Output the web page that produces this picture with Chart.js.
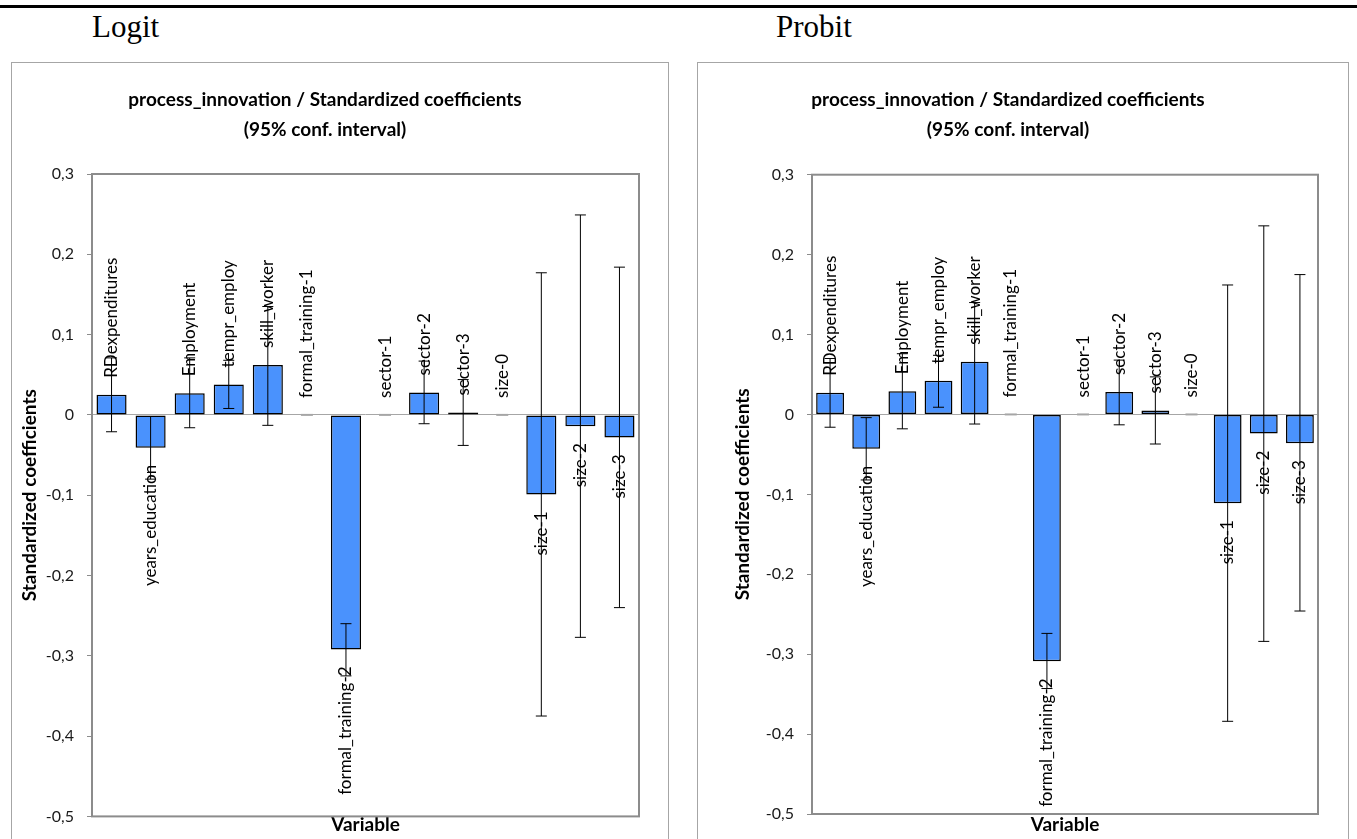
<!DOCTYPE html>
<html>
<head>
<meta charset="utf-8">
<script src="https://cdn.jsdelivr.net/npm/chart.js@4.4.1/dist/chart.umd.min.js"></script>
<style>
  body { margin: 0; background: #fff; width: 1357px; height: 839px; overflow: hidden; position: relative; }
  #rule { position: absolute; left: 0; top: 5px; width: 1357px; height: 3px; background: #000; }
  .model { position: absolute; top: 11px; font-family: "Liberation Serif", serif; font-size: 31px; line-height: 31px; color: #000; }
  .box { position: absolute; top: 62px; height: 800px; border: 1px solid #a6a6a6; box-sizing: border-box; }
  canvas { position: absolute; }
</style>
</head>
<body>
<div id="rule"></div>
<div class="model" style="left:92px">Logit</div>
<div class="model" style="left:776px">Probit</div>
<div class="box" style="left:11px; width:658px"></div>
<div class="box" style="left:697px; width:652px"></div>
<canvas id="logit" width="657" height="777" style="left:11px; top:62px"></canvas>
<canvas id="probit" width="650" height="777" style="left:698px; top:62px"></canvas>
<script>
// variables on the x axis
var variables = ['RDexpenditures', 'years_education', 'Employment', 'tempr_employ', 'skill_worker',
  'formal_training-1', 'formal_training-2', 'sector-1', 'sector-2', 'sector-3',
  'size-0', 'size-1', 'size-2', 'size-3'];

// Logit: standardized coefficients and 95% interval bounds
var logitCoef  = [0.025, -0.041, 0.027, 0.038, 0.062, 0, -0.292, 0, 0.028, 0.003, 0, -0.099, -0.014, -0.028];
var logitLower = [-0.021, -0.080, -0.016, 0.008, -0.013, 0, -0.325, 0, -0.011, -0.038, 0, -0.375, -0.277, -0.240];
var logitUpper = [0.071, -0.002, 0.071, 0.068, 0.135, 0, -0.260, 0, 0.067, 0.044, 0, 0.177, 0.249, 0.184];

// Probit
var probitCoef  = [0.027, -0.043, 0.029, 0.042, 0.066, 0, -0.309, 0, 0.028, 0.005, 0, -0.111, -0.024, -0.036];
var probitLower = [-0.016, -0.082, -0.018, 0.009, -0.012, 0, -0.343, 0, -0.013, -0.037, 0, -0.384, -0.284, -0.246];
var probitUpper = [0.070, -0.004, 0.076, 0.074, 0.140, 0, -0.274, 0, 0.068, 0.047, 0, 0.162, 0.236, 0.175];

var yMin = -0.5, yMax = 0.3, yStep = 0.1;

var FONT = 'Lato';

// grey frame round the plot area
var plotFrame = {
  id: 'plotFrame',
  beforeDatasetsDraw: function (chart) {
    var a = chart.chartArea, ctx = chart.ctx;
    ctx.save();
    ctx.strokeStyle = '#8c8c8c';
    ctx.lineWidth = 2;
    ctx.strokeRect(a.left, a.top, a.right - a.left, a.bottom - a.top);
    ctx.restore();
  }
};

// confidence interval whiskers
var errorBars = {
  id: 'errorBars',
  afterDatasetsDraw: function (chart, args, opts) {
    var ctx = chart.ctx, y = chart.scales.y;
    var bars = chart.getDatasetMeta(0).data;
    ctx.save();
    bars.forEach(function (bar, i) {
      var lo = opts.lower[i], hi = opts.upper[i];
      var yl = y.getPixelForValue(lo), yh = y.getPixelForValue(hi);
      if (lo === hi) {
        ctx.strokeStyle = '#a6a6a6';
        ctx.lineWidth = 2;
        ctx.beginPath();
        ctx.moveTo(bar.x - 6, yl);
        ctx.lineTo(bar.x + 6, yl);
        ctx.stroke();
        return;
      }
      ctx.strokeStyle = '#000';
      ctx.lineWidth = 1;
      ctx.beginPath();
      ctx.moveTo(bar.x, yl); ctx.lineTo(bar.x, yh);
      ctx.moveTo(bar.x - 5.5, yl); ctx.lineTo(bar.x + 5.5, yl);
      ctx.moveTo(bar.x - 5.5, yh); ctx.lineTo(bar.x + 5.5, yh);
      ctx.stroke();
    });
    ctx.restore();
  }
};

// variable names written vertically next to each bar end
var barNames = {
  id: 'barNames',
  afterDatasetsDraw: function (chart) {
    var ctx = chart.ctx, y = chart.scales.y;
    var ds = chart.data.datasets[0];
    var bars = chart.getDatasetMeta(0).data;
    ctx.save();
    ctx.font = '17px ' + FONT;
    ctx.fillStyle = '#000';
    ctx.textBaseline = 'middle';
    bars.forEach(function (bar, i) {
      var v = ds.data[i];
      var py = y.getPixelForValue(v);
      ctx.save();
      if (v >= 0) {
        ctx.translate(bar.x, py - 17);
        ctx.textAlign = 'left';
      } else {
        ctx.translate(bar.x, py + 17);
        ctx.textAlign = 'right';
      }
      ctx.rotate(-Math.PI / 2);
      ctx.fillText(chart.data.labels[i], 0, 0);
      ctx.restore();
    });
    ctx.restore();
  }
};

function makeChart(id, coef, lower, upper, geo) {
  var ctx = document.getElementById(id);
  return new Chart(ctx, {
    type: 'bar',
    data: {
      labels: variables,
      datasets: [{
        data: coef,
        backgroundColor: '#4a92fd',
        borderColor: '#000',
        borderWidth: 1.5,
        borderSkipped: false,
        categoryPercentage: 1,
        barPercentage: 0.77
      }]
    },
    options: {
      responsive: false,
      animation: false,
      devicePixelRatio: 1,
      layout: { padding: { top: 0, left: 0, right: geo.rightPad, bottom: 0 } },
      plugins: {
        legend: { display: false },
        tooltip: { enabled: false },
        title: {
          display: true,
          text: ['process_innovation / Standardized coefficients', '(95% conf. interval)'],
          color: '#000',
          font: { family: FONT, size: 19, weight: 'bold', lineHeight: 30 / 19 },
          padding: { top: 23, bottom: geo.titleBottom }
        },
        errorBars: { lower: lower, upper: upper }
      },
      scales: {
        x: {
          ticks: { display: false },
          grid: { display: false },
          border: { display: false },
          title: {
            display: true,
            text: 'Variable',
            color: '#000',
            font: { family: FONT, size: 19, weight: 'bold' },
            padding: { top: 0, bottom: 2.6 }
          },
          afterFit: function (s) { s.height = geo.xAxisHeight; }
        },
        y: {
          min: yMin,
          max: yMax,
          ticks: {
            stepSize: yStep,
            padding: 13,
            color: '#1a1a1a',
            font: { family: FONT, size: 16 },
            callback: function (v) {
              if (Math.abs(v) < 1e-9) return '0';
              return v.toFixed(1).replace('.', ',');
            }
          },
          grid: {
            color: function (c) { return Math.abs(c.tick.value) < 1e-9 ? '#a6a6a6' : 'rgba(0,0,0,0)'; },
            tickColor: '#8c8c8c',
            tickLength: 5,
            lineWidth: 1
          },
          border: { display: false },
          title: {
            display: true,
            text: 'Standardized coefficients',
            color: '#000',
            font: { family: FONT, size: 19, weight: 'bold' },
            padding: { top: geo.yTitlePad, bottom: 0 }
          },
          afterFit: function (s) { s.width = geo.yAxisWidth; }
        }
      }
    },
    plugins: [plotFrame, errorBars, barNames]
  });
}

makeChart('logit', logitCoef, logitLower, logitUpper,
  { rightPad: 29, titleBottom: 29, xAxisHeight: 22, yAxisWidth: 81, yTitlePad: 7.6 });
makeChart('probit', probitCoef, probitLower, probitUpper,
  { rightPad: 30, titleBottom: 29.7, xAxisHeight: 25, yAxisWidth: 114, yTitlePad: 33.6 });
</script>
</body>
</html>
